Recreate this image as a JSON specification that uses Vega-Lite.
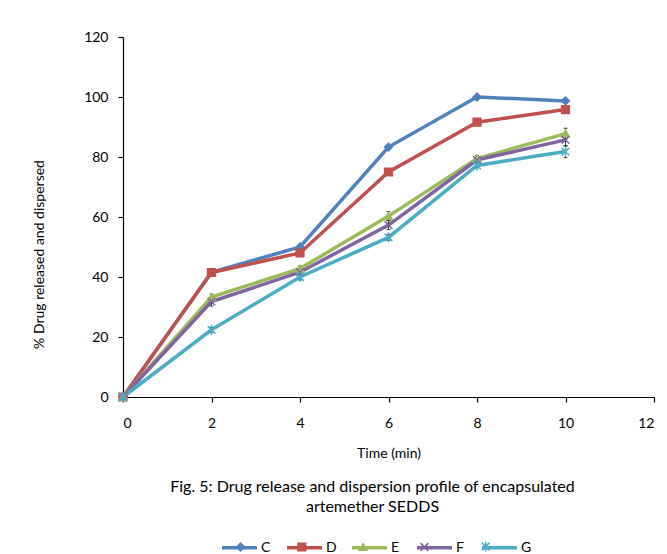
{
  "$schema": "https://vega.github.io/schema/vega-lite/v6.json",
  "width": 531,
  "height": 360,
  "autosize": {"type": "none"},
  "padding": {"left": 123, "top": 37, "right": 13, "bottom": 157},
  "background": "white",
  "config": {
    "view": {"stroke": null},
    "font": "Lato",
    "axis": {"labelFont": "Lato", "titleFont": "Lato", "labelFontSize": 14, "titleFontSize": 14, "titleFontWeight": "normal", "domainColor": "black", "tickColor": "black", "labelColor": "black", "titleColor": "black", "grid": false, "tickSize": 5, "domainWidth": 1.2, "tickWidth": 1.2}
  },
  "resolve": {"axis": {"x": "independent"}},
  "data": {
    "values": [
      {"series": "C", "label": "C", "time": 0, "value": 0, "sd": 0.3},
      {"series": "C", "label": "C", "time": 2, "value": 41.6, "sd": 0.5},
      {"series": "C", "label": "C", "time": 4, "value": 50.0, "sd": 0.5},
      {"series": "C", "label": "C", "time": 6, "value": 83.3, "sd": 0.5},
      {"series": "C", "label": "C", "time": 8, "value": 100.0, "sd": 0.5},
      {"series": "C", "label": "C", "time": 10, "value": 98.7, "sd": 0.5},
      {"series": "D", "label": "D", "time": 0, "value": 0, "sd": 0.3},
      {"series": "D", "label": "D", "time": 2, "value": 41.5, "sd": 0.5},
      {"series": "D", "label": "D", "time": 4, "value": 48.0, "sd": 0.5},
      {"series": "D", "label": "D", "time": 6, "value": 75.0, "sd": 0.5},
      {"series": "D", "label": "D", "time": 8, "value": 91.6, "sd": 0.5},
      {"series": "D", "label": "D", "time": 10, "value": 95.8, "sd": 0.5},
      {"series": "E", "label": "E", "time": 0, "value": 0, "sd": 0.3},
      {"series": "E", "label": "E", "time": 2, "value": 33.3, "sd": 1.0},
      {"series": "E", "label": "E", "time": 4, "value": 42.8, "sd": 0.8},
      {"series": "E", "label": "E", "time": 6, "value": 60.3, "sd": 1.5},
      {"series": "E", "label": "E", "time": 8, "value": 79.5, "sd": 1.0},
      {"series": "E", "label": "E", "time": 10, "value": 87.8, "sd": 1.8},
      {"series": "F", "label": "F", "time": 0, "value": 0, "sd": 0.3},
      {"series": "F", "label": "F", "time": 2, "value": 31.8, "sd": 1.5},
      {"series": "F", "label": "F", "time": 4, "value": 41.6, "sd": 1.0},
      {"series": "F", "label": "F", "time": 6, "value": 57.3, "sd": 1.5},
      {"series": "F", "label": "F", "time": 8, "value": 79.0, "sd": 0.8},
      {"series": "F", "label": "F", "time": 10, "value": 85.7, "sd": 2.0},
      {"series": "G", "label": "G", "time": 0, "value": 0, "sd": 0.3},
      {"series": "G", "label": "G", "time": 2, "value": 22.4, "sd": 0.8},
      {"series": "G", "label": "G", "time": 4, "value": 40.0, "sd": 1.0},
      {"series": "G", "label": "G", "time": 6, "value": 53.2, "sd": 1.0},
      {"series": "G", "label": "G", "time": 8, "value": 77.2, "sd": 0.8},
      {"series": "G", "label": "G", "time": 10, "value": 81.8, "sd": 2.0}
    ]
  },
  "encoding": {
    "y": {
      "field": "value",
      "type": "quantitative",
      "scale": {"domain": [0, 120], "nice": false},
      "axis": {"values": [0, 20, 40, 60, 80, 100, 120], "title": "% Drug released and dispersed", "titleX": -84, "titleY": 217, "titleAngle": -90, "titleAlign": "center", "titleBaseline": "middle", "labelPadding": 10}
    }
  },
  "layer": [
    {
      "mark": {"type": "line", "strokeWidth": 3.5},
      "encoding": {
        "x": {
          "field": "time",
          "type": "quantitative",
          "scale": {"domain": [0, 12], "nice": false},
          "axis": {"orient": "bottom", "values": [0, 2, 4, 6, 8, 10, 12], "title": "Time (min)", "titlePadding": 16, "labelPadding": 14}
        },
        "color": {
          "field": "series",
          "type": "nominal",
          "scale": {"domain": ["C", "D", "E", "F", "G"], "range": ["#4F81BD", "#C0504D", "#9BBB59", "#8064A2", "#4BACC6"]},
          "legend": {
            "title": null,
            "orient": "none",
            "direction": "horizontal",
            "gridAlign": "all",
            "legendX": 97,
            "legendY": 491,
            "symbolType": "stroke",
            "symbolSize": 1225,
            "symbolStrokeWidth": 3.5,
            "labelFont": "Lato",
            "labelFontSize": 14,
            "labelColor": "black",
            "labelOffset": 2,
            "columnPadding": 8
          }
        }
      }
    },
    {
      "mark": {"type": "errorbar", "color": "black", "ticks": {"size": 4, "color": "black", "strokeWidth": 1.2}, "rule": {"strokeWidth": 0.8}},
      "encoding": {
        "x": {"field": "time", "type": "quantitative", "axis": null},
        "yError": {"field": "sd"}
      }
    },
    {
      "mark": {"type": "point", "filled": true, "size": 60, "strokeWidth": 1.5, "opacity": 1},
      "encoding": {
        "x": {
          "field": "time",
          "type": "quantitative",
          "axis": {
            "orient": "bottom",
            "domain": false,
            "ticks": false,
            "labels": false,
            "title": ["Fig. 5: Drug release and dispersion profile of encapsulated", "artemether SEDDS"],
            "titleFontSize": 16,
            "titleLineHeight": 20,
            "titleX": 249,
            "titleAlign": "center",
            "titleBaseline": "top",
            "titlePadding": 81
          }
        },
        "shape": {
          "field": "label",
          "type": "nominal",
          "scale": {"range": ["diamond", "square", "triangle-up", "M-1,-1L1,1M-1,1L1,-1", "M-1,-1L1,1M-1,1L1,-1M0,-1.3L0,1.3"]},
          "legend": {
            "title": null,
            "orient": "none",
            "direction": "horizontal",
            "gridAlign": "all",
            "legendX": 97,
            "legendY": 502,
            "symbolSize": 60,
            "symbolOffset": 13.5,
            "symbolStrokeWidth": 1.5,
            "labelFont": "Lato",
            "labelFontSize": 14,
            "labelColor": "black",
            "labelExpr": "''",
            "labelOffset": 15.5,
            "columnPadding": 18.3
          }
        },
        "fill": {
          "field": "label",
          "type": "nominal",
          "scale": {"range": ["#4F81BD", "#C0504D", "#9BBB59", "#8064A2", "#4BACC6"]}
        },
        "stroke": {
          "field": "label",
          "type": "nominal",
          "scale": {"range": ["#4F81BD", "#C0504D", "#9BBB59", "#8064A2", "#4BACC6"]}
        }
      }
    }
  ]
}
